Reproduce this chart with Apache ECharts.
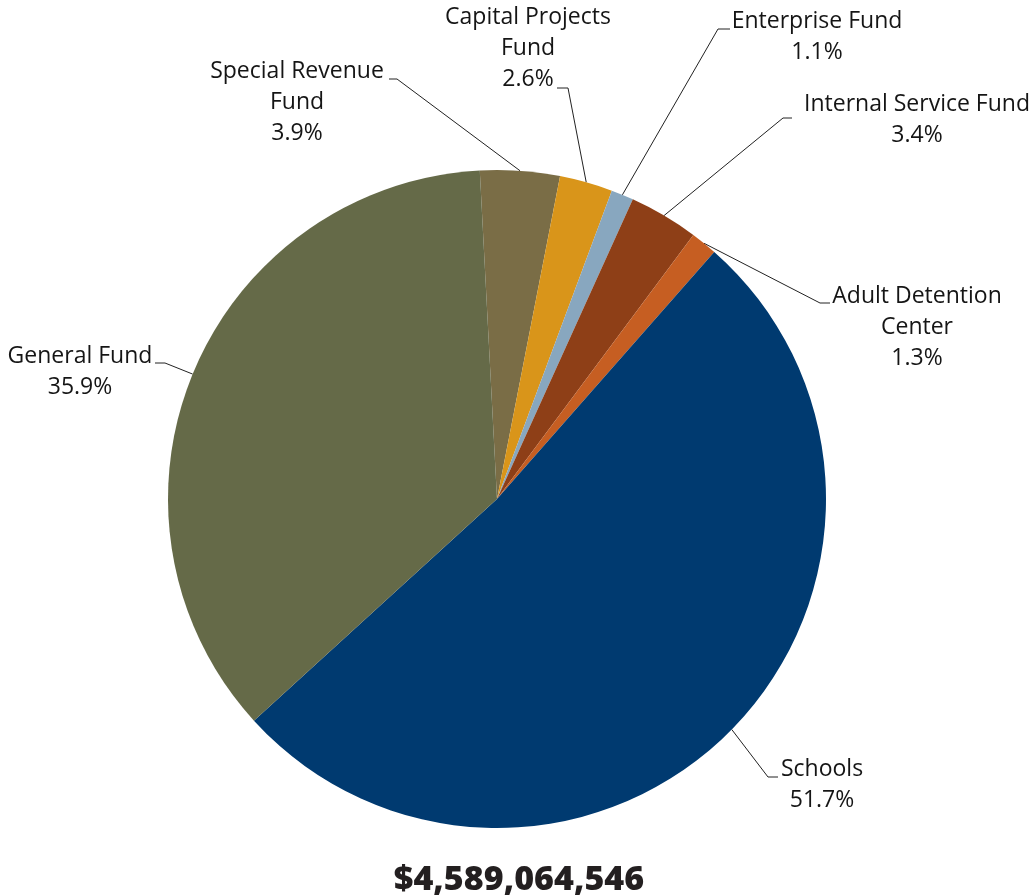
<!DOCTYPE html>
<html>
<head>
<meta charset="utf-8">
<script src="https://cdn.jsdelivr.net/npm/echarts@6/dist/echarts.min.js"></script>
<style>
html,body{margin:0;padding:0;background:#fff;}
#chart{width:1036px;height:896px;}
</style>
</head>
<body>
<div id="chart"></div>
<script>
// ---- data ----
var fundNames = [
  'Special Revenue\nFund',
  'Capital Projects\nFund',
  'Enterprise Fund',
  'Internal Service Fund',
  'Adult Detention\nCenter',
  'Schools',
  'General Fund'
];
var fundShares = [3.9, 2.6, 1.1, 3.4, 1.3, 51.7, 35.9];
var fundColors = ['#7a6d46', '#d9951a', '#88a7bf', '#8e3f17', '#c65e22', '#003a70', '#656a48'];
var totalLabel = '$4,589,064,546';

// ---- label placement (text anchor, elbow, end of leader) ----
var labelSpots = [
  {x: 297, y: 56,  elbow: [397, 79],  end: [389, 79]},
  {x: 528, y: 2,   elbow: [568, 88],  end: [557, 88]},
  {x: 817, y: 6,   elbow: [718, 29],  end: [730, 29]},
  {x: 917, y: 89,  elbow: [783, 118], end: [792, 118]},
  {x: 917, y: 281, elbow: [820, 303], end: [830, 303]},
  {x: 822, y: 754, elbow: [768, 777], end: [778, 777]},
  {x: 80,  y: 341, elbow: [165, 363], end: [155, 363]}
];

var CX = 497, CY = 499, R = 329, START = 93;

function edgePoint(idx) {
  var total = fundShares.reduce(function (a, b) { return a + b; }, 0);
  var before = 0;
  for (var i = 0; i < idx; i++) before += fundShares[i];
  var midFrac = (before + fundShares[idx] / 2) / total;
  var ang = (START - midFrac * 360) * Math.PI / 180;
  return [CX + R * Math.cos(ang), CY - R * Math.sin(ang)];
}

var chart = echarts.init(document.getElementById('chart'), null, {renderer: 'canvas'});
chart.setOption({
  animation: false,
  backgroundColor: '#ffffff',
  title: {
    text: totalLabel,
    left: 514,
    top: 858,
    textAlign: 'center',
    textStyle: {fontFamily: 'Open Sans', fontWeight: 800, fontSize: 34, color: '#231f20'}
  },
  series: [{
    type: 'pie',
    center: [CX, CY],
    radius: R,
    startAngle: START,
    clockwise: true,
    avoidLabelOverlap: false,
    data: fundNames.map(function (n, i) {
      return {name: n, value: fundShares[i], itemStyle: {color: fundColors[i]}};
    }),
    itemStyle: {borderWidth: 0},
    label: {
      show: true,
      formatter: function (p) { return p.name + '\n' + p.value.toFixed(1) + '%'; },
      fontFamily: 'Open Sans',
      fontSize: 23,
      lineHeight: 31,
      color: '#151515',
      align: 'center'
    },
    labelLine: {show: true, length: 20, length2: 10, lineStyle: {color: '#222222', width: 1}},
    emphasis: {disabled: true},
    labelLayout: function (params) {
      var s = labelSpots[params.dataIndex];
      var p0 = edgePoint(params.dataIndex);
      return {
        x: s.x,
        y: s.y,
        align: 'center',
        verticalAlign: 'top',
        labelLinePoints: [p0, s.elbow, s.end]
      };
    }
  }]
});
</script>
</body>
</html>
